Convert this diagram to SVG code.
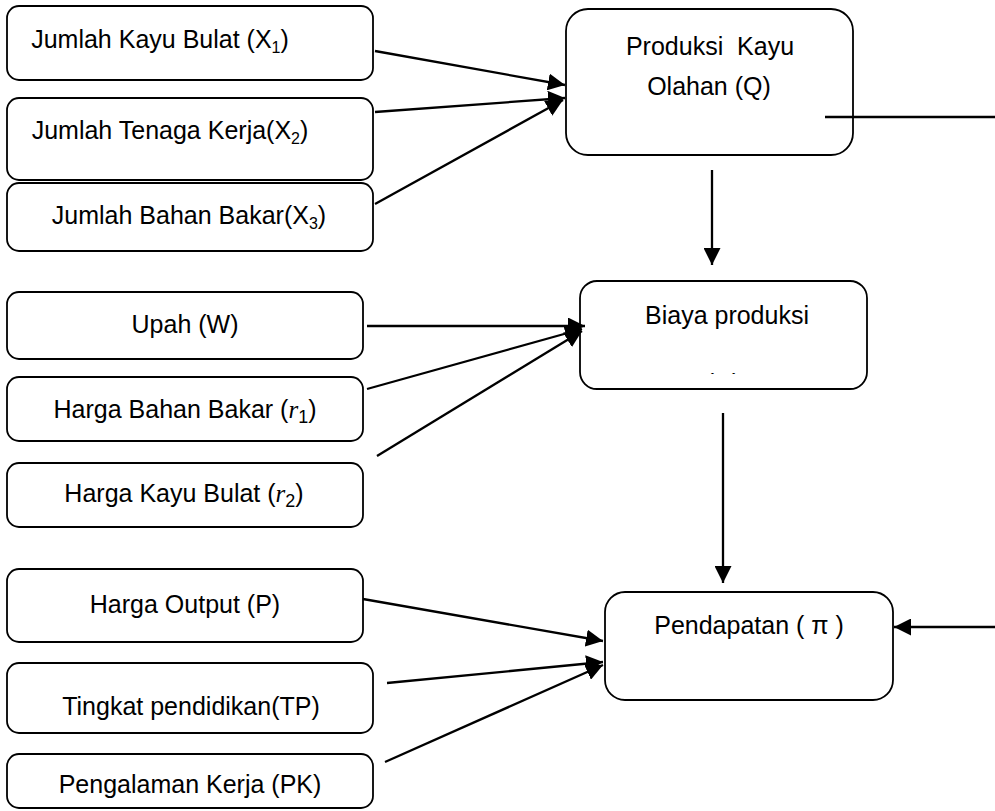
<svg xmlns="http://www.w3.org/2000/svg" width="995" height="811" viewBox="0 0 995 811">
<style>
.box{fill:#fff;stroke:#000;stroke-width:1.8}
.t{font-family:"Liberation Sans",Arial,sans-serif;font-size:25px;fill:#000;text-anchor:middle;white-space:pre}
.m{font-family:"Liberation Serif","DejaVu Serif",serif;font-style:italic}
.sub{font-size:16px}
.c{stroke:#000;stroke-width:2.3;fill:none}
</style>
<defs>
<marker id="arr" markerUnits="userSpaceOnUse" markerWidth="19" markerHeight="17" refX="17" refY="8.5" orient="auto">
<path d="M0,0 L17,8.5 L0,17 z" fill="#000"/>
</marker>
<clipPath id="clipC"><rect x="580" y="281" width="287" height="93"/></clipPath>
</defs>
<rect width="995" height="811" fill="#fff"/>

<g id="n-x1"><rect class="box" x="7" y="6" width="366" height="74" rx="12"/>
<text class="t" x="160" y="48">Jumlah Kayu Bulat (X<tspan class="sub" dy="5">1</tspan><tspan dy="-5">)</tspan></text></g>
<g id="n-x2"><rect class="box" x="7" y="98" width="366" height="82" rx="12"/>
<text class="t" x="170" y="139">Jumlah Tenaga Kerja(X<tspan class="sub" dy="5">2</tspan><tspan dy="-5">)</tspan></text></g>
<g id="n-x3"><rect class="box" x="7" y="183" width="366" height="68" rx="12"/>
<text class="t" x="189" y="224">Jumlah Bahan Bakar(X<tspan class="sub" dy="5">3</tspan><tspan dy="-5">)</tspan></text></g>

<g id="n-q"><rect class="box" x="566" y="9" width="287" height="146" rx="22"/>
<text class="t" x="710" y="55">Produksi  Kayu</text>
<text class="t" x="709" y="95">Olahan (Q)</text></g>

<g id="n-w"><rect class="box" x="7" y="292" width="356" height="67" rx="12"/>
<text class="t" x="185" y="333">Upah (W)</text></g>
<g id="n-r1"><rect class="box" x="7" y="377" width="356" height="64" rx="12"/>
<text class="t" x="185" y="418">Harga Bahan Bakar (<tspan class="m">r</tspan><tspan dy="5" font-size="18">1</tspan><tspan dy="-5">)</tspan></text></g>
<g id="n-r2"><rect class="box" x="7" y="463" width="356" height="64" rx="12"/>
<text class="t" x="184" y="502">Harga Kayu Bulat (<tspan class="m">r</tspan><tspan dy="5" font-size="18">2</tspan><tspan dy="-5">)</tspan></text></g>

<g id="n-c"><rect class="box" x="580" y="281" width="287" height="108" rx="17"/>
<text class="t" x="727" y="324">Biaya produksi</text>
<text class="t" x="723" y="392" clip-path="url(#clipC)">(C)</text></g>

<g id="n-p"><rect class="box" x="7" y="569" width="356" height="73" rx="12"/>
<text class="t" x="185" y="613">Harga Output (P)</text></g>
<g id="n-tp"><rect class="box" x="7" y="663" width="366" height="70" rx="12"/>
<text class="t" x="191" y="715">Tingkat pendidikan(TP)</text></g>
<g id="n-pk"><rect class="box" x="7" y="754" width="366" height="54" rx="12"/>
<text class="t" x="190" y="793">Pengalaman Kerja (PK)</text></g>

<g id="n-pi"><rect class="box" x="605" y="592" width="288" height="108" rx="20"/>
<text class="t" x="749" y="634">Pendapatan ( π )</text></g>

<g id="connectors">
<line class="c" x1="375" y1="51" x2="565" y2="85" marker-end="url(#arr)"/>
<line class="c" x1="375" y1="112" x2="565" y2="98" marker-end="url(#arr)"/>
<line class="c" x1="375" y1="204" x2="563" y2="100" marker-end="url(#arr)"/>
<line class="c" x1="825" y1="117" x2="995" y2="117"/>
<line class="c" x1="712" y1="170" x2="712" y2="265" marker-end="url(#arr)"/>
<line class="c" x1="367" y1="326" x2="585" y2="326" marker-end="url(#arr)"/>
<line class="c" x1="367" y1="389" x2="582" y2="329" marker-end="url(#arr)"/>
<line class="c" x1="377" y1="456" x2="582" y2="331" marker-end="url(#arr)"/>
<line class="c" x1="723" y1="413" x2="723" y2="583" marker-end="url(#arr)"/>
<line class="c" x1="363" y1="599" x2="603" y2="641" marker-end="url(#arr)"/>
<line class="c" x1="387" y1="683" x2="603" y2="662" marker-end="url(#arr)"/>
<line class="c" x1="385" y1="762" x2="603" y2="665" marker-end="url(#arr)"/>
<line class="c" x1="995" y1="627" x2="894" y2="627" marker-end="url(#arr)"/>
</g>
</svg>
